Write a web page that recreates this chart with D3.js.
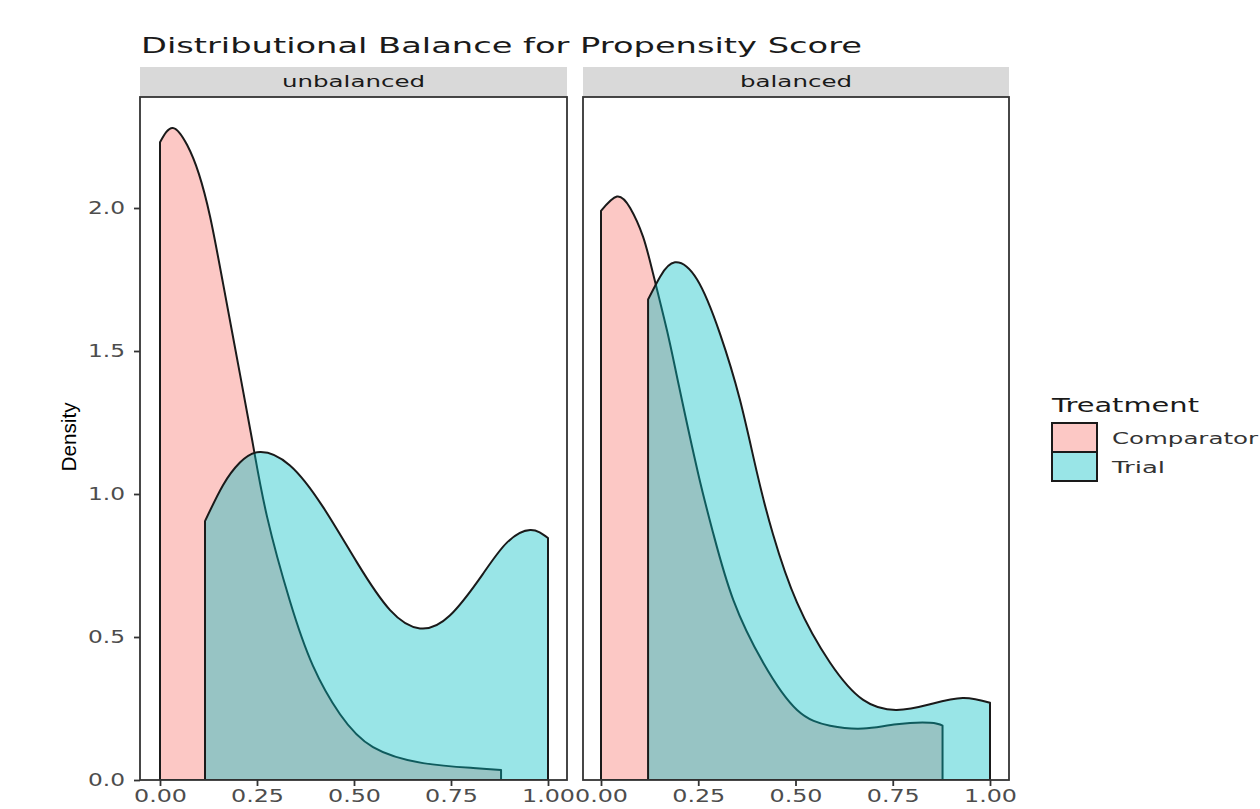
<!DOCTYPE html>
<html>
<head>
<meta charset="utf-8">
<script src="https://cdn.jsdelivr.net/npm/d3@7"></script>
<style>
  html, body { margin: 0; padding: 0; background: #fff; }
  svg { display: block; font-family: "DejaVu Sans", sans-serif; }
</style>
</head>
<body>
<svg id="chart" width="1260" height="809"></svg>
<script>
// ---------------- data ----------------
const chartTitle = "Distributional Balance for Propensity Score";
const facets = ["unbalanced", "balanced"];
const groups = ["Comparator", "Trial"];
const groupColors = ["#F8766D", "#00BFC4"];
const xTicks = [0, 0.25, 0.5, 0.75, 1];
const xTickLabels = ["0.00", "0.25", "0.50", "0.75", "1.00"];
const yTicks = [0, 0.5, 1, 1.5, 2];
const yTickLabels = ["0.0", "0.5", "1.0", "1.5", "2.0"];

// unbalanced - Comparator
const unbComparatorX = [0, 0.033, 0.07, 0.1, 0.129, 0.162, 0.206, 0.24, 0.276, 0.335, 0.394, 0.464, 0.549, 0.678, 0.807, 0.879];
const unbComparatorY = [2.23, 2.28, 2.22, 2.12, 1.97, 1.74, 1.42, 1.17, 0.92, 0.625, 0.40, 0.23, 0.115, 0.059, 0.042, 0.035];
// unbalanced - Trial
const unbTrialX = [0.116, 0.162, 0.206, 0.258, 0.335, 0.42, 0.508, 0.593, 0.67, 0.747, 0.832, 0.894, 0.954, 1.0];
const unbTrialY = [0.905, 1.03, 1.11, 1.147, 1.1, 0.955, 0.76, 0.594, 0.53, 0.575, 0.72, 0.83, 0.874, 0.846];
// balanced - Comparator
const balComparatorX = [0, 0.041, 0.075, 0.108, 0.134, 0.17, 0.2, 0.25, 0.289, 0.34, 0.417, 0.504, 0.589, 0.674, 0.76, 0.846, 0.878];
const balComparatorY = [1.99, 2.04, 2.0, 1.9, 1.77, 1.57, 1.38, 1.07, 0.86, 0.63, 0.41, 0.245, 0.19, 0.18, 0.195, 0.2, 0.19];
// balanced - Trial
const balTrialX = [0.121, 0.152, 0.19, 0.247, 0.306, 0.357, 0.4, 0.442, 0.504, 0.589, 0.674, 0.76, 0.846, 0.93, 1.0];
const balTrialY = [1.68, 1.76, 1.81, 1.75, 1.56, 1.33, 1.08, 0.86, 0.62, 0.41, 0.28, 0.245, 0.265, 0.287, 0.27];

const seriesByFacet = {
  unbalanced: [[unbComparatorX, unbComparatorY], [unbTrialX, unbTrialY]],
  balanced:   [[balComparatorX, balComparatorY], [balTrialX, balTrialY]]
};

// ---------------- layout ----------------
const svg = d3.select("#chart");
const panelTop = 97, panelBottom = 780;
const stripTop = 67;
const panels = [
  { x0: 140, x1: 567, r0: 160, r1: 548 },
  { x0: 583, x1: 1009, r0: 601, r1: 990 }
];
const y = d3.scaleLinear().domain([0, 2]).range([panelBottom, 208]);

// title
svg.append("text")
  .attr("x", 141).attr("y", 53)
  .attr("font-size", 22).attr("fill", "#1a1a1a")
  .attr("textLength", 721).attr("lengthAdjust", "spacingAndGlyphs")
  .text(chartTitle);

// y axis label
svg.append("text")
  .attr("transform", "translate(76,437) rotate(-90)")
  .attr("text-anchor", "middle")
  .attr("font-family", "'Liberation Sans', sans-serif")
  .attr("font-size", 21).attr("fill", "#000")
  .attr("textLength", 69).attr("lengthAdjust", "spacingAndGlyphs")
  .text("Density");

const stripLabelLen = { unbalanced: 143, balanced: 112 };

facets.forEach((facet, i) => {
  const p = panels[i];
  const x = d3.scaleLinear().domain([0, 1]).range([p.r0, p.r1]);
  const g = svg.append("g");

  // strip
  g.append("rect")
    .attr("x", p.x0).attr("y", stripTop)
    .attr("width", p.x1 - p.x0).attr("height", panelTop - stripTop)
    .attr("fill", "#d9d9d9");
  g.append("text")
    .attr("x", (p.x0 + p.x1) / 2).attr("y", 87)
    .attr("text-anchor", "middle")
    .attr("font-size", 15).attr("fill", "#1a1a1a")
    .attr("textLength", stripLabelLen[facet]).attr("lengthAdjust", "spacingAndGlyphs")
    .text(facet);

  // clip
  const clipId = "clip" + i;
  svg.append("clipPath").attr("id", clipId)
    .append("rect").attr("x", p.x0).attr("y", panelTop)
    .attr("width", p.x1 - p.x0).attr("height", panelBottom - panelTop);

  // densities
  const area = d3.area()
    .x(d => x(d[0])).y0(y(0)).y1(d => y(d[1]))
    .curve(d3.curveNatural);
  const dg = g.append("g").attr("clip-path", `url(#${clipId})`);
  seriesByFacet[facet].forEach((s, k) => {
    const pts = s[0].map((xv, j) => [xv, s[1][j]]);
    dg.append("path")
      .datum(pts)
      .attr("d", area)
      .attr("fill", groupColors[k]).attr("fill-opacity", 0.4)
      .attr("stroke", "#1a1a1a").attr("stroke-width", 2)
      .attr("stroke-linejoin", "round");
  });

  // panel border
  g.append("rect")
    .attr("x", p.x0).attr("y", panelTop)
    .attr("width", p.x1 - p.x0).attr("height", panelBottom - panelTop)
    .attr("fill", "none").attr("stroke", "#333").attr("stroke-width", 1.8);

  // x axis
  const xa = g.append("g").attr("transform", `translate(0,${panelBottom})`)
    .call(d3.axisBottom(x).tickValues(xTicks)
      .tickFormat((d, j) => xTickLabels[j]).tickSize(6).tickPadding(4));
  xa.select(".domain").remove();
  xa.selectAll(".tick line").attr("stroke", "#333").attr("stroke-width", 1.8);
  xa.selectAll(".tick text")
    .attr("font-family", "'DejaVu Sans', sans-serif")
    .attr("font-size", 17).attr("fill", "#4d4d4d")
    .attr("textLength", 53).attr("lengthAdjust", "spacingAndGlyphs");
});

// y axis (left panel only)
const ya = svg.append("g").attr("transform", `translate(${panels[0].x0},0)`)
  .call(d3.axisLeft(y).tickValues(yTicks)
    .tickFormat((d, j) => yTickLabels[j]).tickSize(6).tickPadding(9));
ya.select(".domain").remove();
ya.selectAll(".tick line").attr("stroke", "#333").attr("stroke-width", 1.8);
ya.selectAll(".tick text")
  .attr("font-family", "'DejaVu Sans', sans-serif")
  .attr("font-size", 17).attr("fill", "#4d4d4d")
  .attr("textLength", 37).attr("lengthAdjust", "spacingAndGlyphs");

// legend
const lg = svg.append("g");
lg.append("text")
  .attr("x", 1052).attr("y", 412)
  .attr("font-size", 20).attr("fill", "#1a1a1a")
  .attr("textLength", 147).attr("lengthAdjust", "spacingAndGlyphs")
  .text("Treatment");
const legendLen = [146, 53];
groups.forEach((name, k) => {
  const ky = 423 + k * 29;
  lg.append("rect")
    .attr("x", 1052).attr("y", ky).attr("width", 45).attr("height", 29)
    .attr("fill", groupColors[k]).attr("fill-opacity", 0.4)
    .attr("stroke", "#1a1a1a").attr("stroke-width", 2);
  lg.append("text")
    .attr("x", 1112).attr("y", ky + 21)
    .attr("font-size", 16).attr("fill", "#333")
    .attr("textLength", legendLen[k]).attr("lengthAdjust", "spacingAndGlyphs")
    .text(name);
});
</script>
</body>
</html>
